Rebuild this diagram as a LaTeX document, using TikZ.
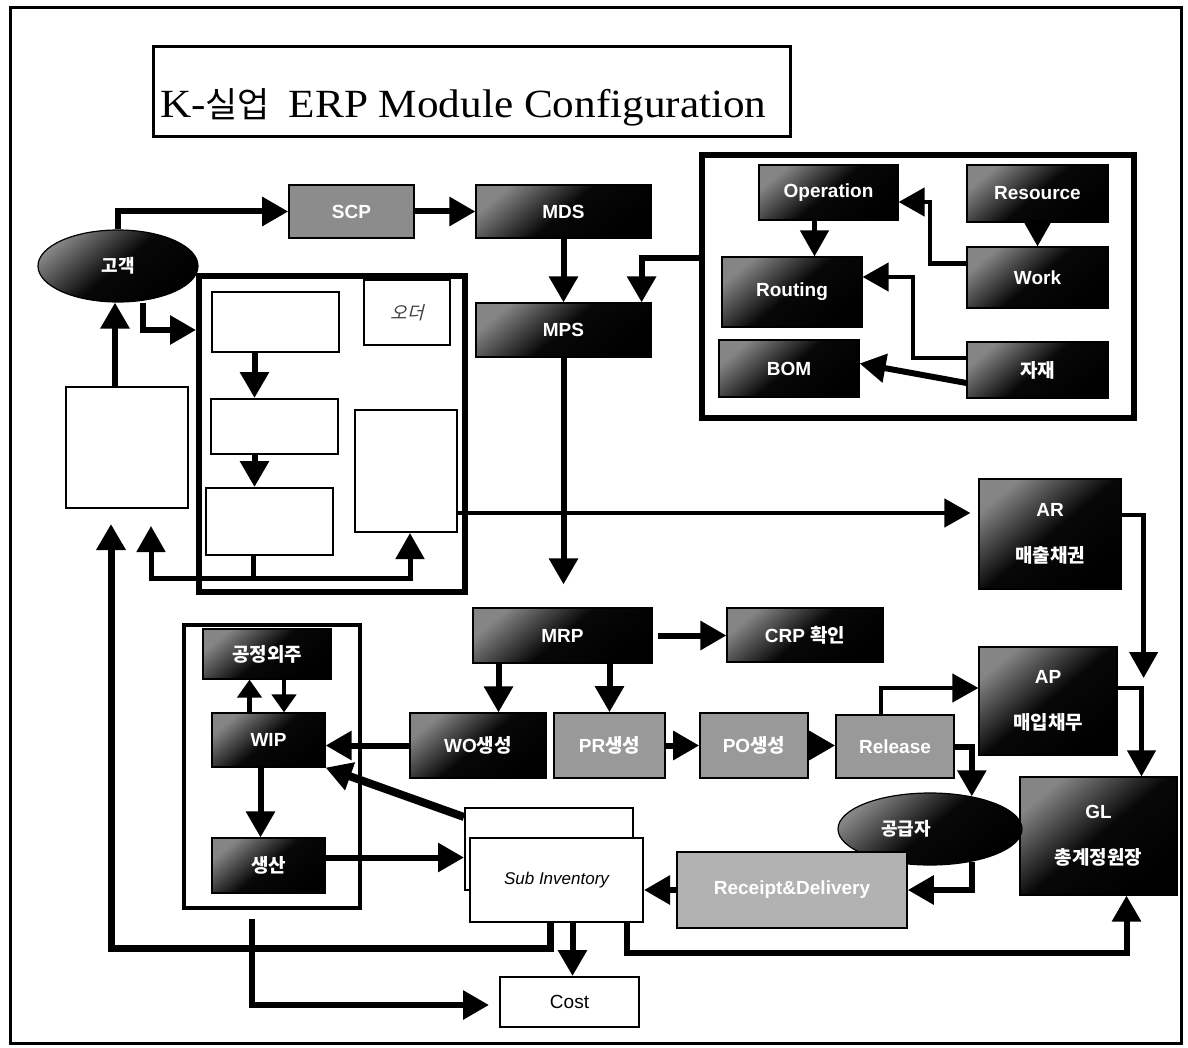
\documentclass[tikz,border=0pt]{standalone}
\usepackage{fontspec}
\setmainfont{Liberation Serif}
\newfontfamily\lat{Liberation Sans}
\newfontfamily\kr{Noto Sans CJK KR}
\newfontfamily\krsl[FakeSlant=0.25]{Noto Sans CJK KR}
\newfontfamily\titlefont[FakeStretch=1.08]{Liberation Serif}
\usetikzlibrary{arrows.meta,fit,shapes.geometric,calc}
\newcommand{\hangul}[1]{{\kr\bfseries #1}}
% rectangle node given by its corners: name, style, x1, y1, x2, y2, text
\newcommand{\rectnode}[7]{%
  \node[#2, minimum width={(#5)-(#3)}, minimum height={(#6)-(#4)}] (#1)
    at ({((#3)+(#5))/2},{((#4)+(#6))/2}) {#7};}

\begin{document}
\begin{tikzpicture}[x=1pt,y=-1pt,line join=miter,
  lbl/.style={font=\lat\bfseries\fontsize{19}{23}\selectfont},
  twolbl/.style={font=\lat\bfseries\fontsize{19}{46}\selectfont, align=center},
  darkbox/.style={draw=black, line width=1.2pt, top color=black!48, bottom color=black, middle color=black!97, shading angle=40, text=white, inner sep=0pt, lbl},
  graybox/.style={draw=black, line width=1.6pt, fill=black!40, text=white, inner sep=0pt, lbl},
  whitebox/.style={draw=black, line width=2pt, fill=white, inner sep=0pt},
  groupbox/.style={draw=black, line width=6pt, inner sep=0pt},
  arr/.style={line width=6pt, -{Triangle[length=26pt,width=28pt]}},
  thinarr/.style={line width=4.5pt, -{Triangle[length=26pt,width=28pt]}},
  smallarr/.style={line width=4.5pt, -{Triangle[length=18pt,width=24pt]}},
]
\useasboundingbox (0,0) rectangle (1188,1048);
\fill[white] (0,0) rectangle (1188,1048);
\draw[line width=3pt] (10,8) rectangle (1181,1043);

% title
\node[draw, line width=3pt, inner sep=0pt, fit={(153,47) (790,137)}] (title) {};
\node[anchor=base west, inner sep=0pt, font=\titlefont\fontsize{40}{44}\selectfont] (titletext) at (160,118)
  {K-{\kr\fontsize{35}{40}\selectfont 실업}\hspace{8pt} ERP Module Configuration};

% planning chain
\rectnode{scp}{graybox, fill=black!45}{289}{185}{414}{238}{SCP}
\rectnode{mds}{darkbox}{476}{185}{651}{238}{MDS}
\rectnode{mps}{darkbox}{476}{303}{651}{357}{MPS}

% master data group
\node[groupbox, fit={(702,155) (1134,418)}] (rgroup) {};
\rectnode{operation}{darkbox}{759}{165}{898}{220}{Operation}
\rectnode{resource}{darkbox}{967}{165}{1108}{222}{Resource}
\rectnode{routing}{darkbox}{722}{257}{862}{327}{Routing}
\rectnode{work}{darkbox}{967}{247}{1108}{308}{Work}
\rectnode{bom}{darkbox}{719}{340}{859}{397}{BOM}
\rectnode{jaje}{darkbox}{967}{342}{1108}{398}{\hangul{자재}}

% order group
\node[groupbox, fit={(199,276) (465,592)}] (ordgroup) {};
\rectnode{box1}{whitebox}{212}{292}{339}{352}{}
\rectnode{oder}{whitebox, font=\krsl\fontsize{18}{20}\selectfont, text=black!75}{364}{280}{450}{345}{오더}
\rectnode{box2}{whitebox}{211}{399}{338}{454}{}
\rectnode{box3}{whitebox}{206}{488}{333}{555}{}
\rectnode{box4}{whitebox}{355}{410}{457}{532}{}
\rectnode{leftbox}{whitebox}{66}{387}{188}{508}{}

% customer
\node[ellipse, darkbox, minimum width=160pt, minimum height=72pt, font=\fontsize{18}{20}\selectfont] (gogaek) at (118,266) {\hangul{고객}};

% accounting
\rectnode{ar}{darkbox, twolbl}{979}{479}{1121}{589}{AR\\\hangul{매출채권}}
\rectnode{ap}{darkbox, twolbl}{979}{647}{1117}{755}{AP\\\hangul{매입채무}}
\rectnode{gl}{darkbox, twolbl}{1020}{777}{1177}{895}{GL\\\hangul{총계정원장}}

% MRP chain
\rectnode{mrp}{darkbox}{473}{608}{652}{663}{MRP}
\rectnode{crp}{darkbox}{727}{608}{883}{662}{CRP \hangul{확인}}
\rectnode{wo}{darkbox}{410}{713}{546}{778}{WO\hangul{생성}}
\rectnode{pr}{graybox}{554}{713}{665}{778}{PR\hangul{생성}}
\rectnode{po}{graybox}{700}{713}{808}{778}{PO\hangul{생성}}
\rectnode{release}{graybox}{836}{715}{954}{778}{Release}

% supplier and receipt
\node[ellipse, darkbox, minimum width=184pt, minimum height=72pt, font=\fontsize{18}{20}\selectfont] (ggj) at (930,829) {\hangul{공급자}\hspace*{48pt}};
\rectnode{receipt}{graybox, fill=black!30}{677}{852}{907}{928}{Receipt\&Delivery}

% inventory and cost
\rectnode{subb}{whitebox}{465}{808}{633}{890}{}
\rectnode{subf}{whitebox, font=\lat\itshape\fontsize{17}{20}\selectfont}{470}{838}{643}{922}{Sub Inventory}
\rectnode{cost}{whitebox, font=\lat\fontsize{19}{22}\selectfont}{500}{977}{639}{1027}{Cost}

% shop floor group
\node[draw=black, line width=4pt, inner sep=0pt, fit={(184,625) (360,908)}] (wipgroup) {};
\rectnode{gongjeong}{darkbox}{203}{629}{331}{679}{\hangul{공정외주}}
\rectnode{wip}{darkbox}{212}{713}{325}{767}{WIP}
\rectnode{saengsan}{darkbox}{212}{838}{325}{893}{\hangul{생산}}

% ---------- connectors ----------
% customer
\draw[arr] (gogaek.north) |- (scp.west);
\coordinate (gs) at ([xshift=25pt]gogaek.south);
\coordinate (og) at (0,330);
\draw[arr] (gs) |- (og -| ordgroup.west);
\coordinate (lbt) at ([xshift=-12pt]leftbox.north);
\draw[arr] (lbt) -- (lbt |- gogaek.south);

% planning
\draw[arr] (scp.east) -- (mds.west);
\draw[arr] (mds.south) -- (mds.south |- mps.north);
\coordinate (mrpin) at ([yshift=23pt]mrp.north);
\draw[arr] (mps.south) -- (mps.south |- mrpin);
\coordinate (rg) at ([yshift=28pt]rgroup.west);
\coordinate (mpsin) at ([xshift=-10pt]mps.north east);
\draw[arr] (rg) -| (mpsin);

% master data
\coordinate (os) at ([xshift=-14pt]operation.south);
\draw[thinarr] (os) -- (os |- routing.north);
\draw[thinarr] (resource.south) -- (work.north);
\coordinate (k1) at (930,202);
\draw[thinarr] ([yshift=14pt]work.west) -| (k1) -- (k1 -| operation.east);
\coordinate (k2) at (913,277);
\draw[thinarr] ([yshift=12pt]jaje.west) -| (k2) -- (k2 -| routing.east);
\draw[arr] ([yshift=-13pt]jaje.west) -- ([yshift=5pt]bom.east);

% order flow
\coordinate (b1s) at ([xshift=-21pt]box1.south);
\draw[arr] (b1s) -- (b1s |- box2.north);
\coordinate (b2s) at (b1s |- box2.south);
\draw[arr] (b2s) -- (b2s |- box3.north);
\coordinate (b3s) at ([xshift=-16pt]box3.south);
\coordinate (yo) at (0,578);
\coordinate (lbin2) at ([xshift=24pt,yshift=-17pt]leftbox.south);
\draw[arr, line width=5pt] (b3s) |- (yo -| lbin2) -- (lbin2);
\draw[arr, line width=5pt] (b3s |- yo) -| ([xshift=4pt]box4.south);

% receivables and payables
\coordinate (b4e) at ([yshift=-42pt]box4.east);
\draw[thinarr, shorten >=8pt] (b4e) -- (b4e -| ar.west);
\coordinate (apj) at ([xshift=26pt,yshift=23pt]ap.east);
\draw[thinarr] ([yshift=19pt]ar.east) -| (apj);
\draw[thinarr] ([yshift=13pt]ap.east) -| ([xshift=43pt]gl.north);

% MRP
\draw[arr, shorten <=5pt] (mrp.east) -- (mrp.east -| crp.west);
\coordinate (mw) at ([xshift=-64pt]mrp.south);
\draw[arr] (mw) -- (mw |- wo.north);
\draw[arr] (pr.north |- mrp.south) -- (pr.north);
\draw[arr] (wo.west) -- (wo.west -| wip.east);
\draw[arr] (pr.east) -- (pr.east -| po.west);
\draw[arr] (po.east) -- (po.east -| release.west);
\draw[thinarr] ([xshift=-14pt]release.north) |- ([yshift=13pt]ap.west);
\draw[arr] (release.east) -| (ggj.38);
\draw[arr] (ggj.-38) |- (receipt.east);
\draw[arr] (receipt.west) -- (receipt.west -| subf.east);

% inventory
\coordinate (sg) at ([xshift=70pt]subf.south);
\coordinate (gin) at ([xshift=28pt]gl.south);
\coordinate (ybot) at (0,953);
\draw[arr] (sg) |- (ybot -| gin) -- (gin);
\coordinate (sc) at ([xshift=16pt]subf.south);
\draw[arr] (sc) -- (sc |- cost.north);
\coordinate (sl) at ([xshift=-6pt]subf.south);
\coordinate (lbin) at ([xshift=-16pt,yshift=-15pt]leftbox.south);
\coordinate (yloop) at (0,948);
\draw[arr, line width=7pt] (sl) |- (yloop -| lbin) -- (lbin);

% shop floor
\coordinate (gu) at ([xshift=-19pt]wip.north);
\draw[smallarr] (gu) -- (gu |- gongjeong.south);
\coordinate (gd) at ([xshift=17pt]gongjeong.south);
\draw[smallarr] (gd) -- (gd |- wip.north);
\coordinate (ws) at ([xshift=-8pt]wip.south);
\draw[arr] (ws) -- (ws |- saengsan.north);
\coordinate (se) at ([yshift=8pt]saengsan.east);
\draw[arr] (se) -- (se -| subb.west);
\coordinate (sw) at ([yshift=32pt]subb.west);
\draw[arr, line width=8pt] (sw) -- (wip.south east);
\coordinate (wc) at ([xshift=70pt,yshift=-9pt]wipgroup.south west);
\coordinate (ci) at ([xshift=-10pt,yshift=-3pt]cost.west);
\draw[arr] (wc) |- (ci);
\end{tikzpicture}
\end{document}
